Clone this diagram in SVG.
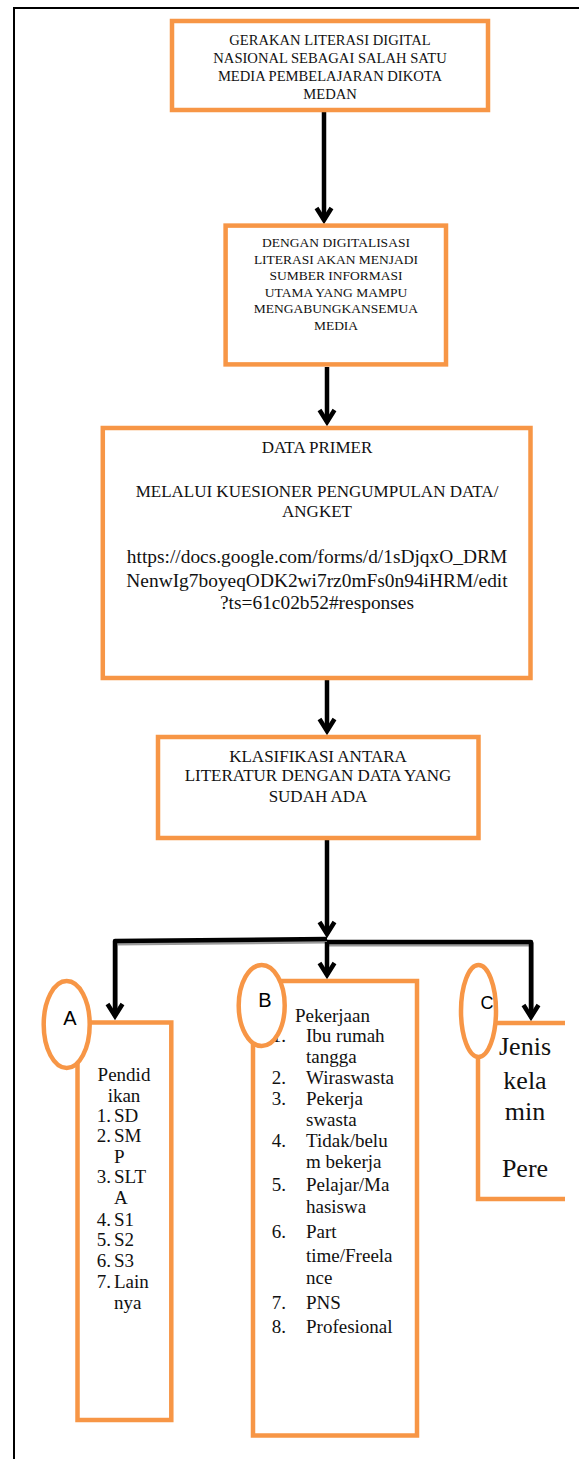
<svg xmlns="http://www.w3.org/2000/svg" width="579" height="1459" viewBox="0 0 579 1459">
<style>
.box{fill:#fff;stroke:#F79646;stroke-width:4.5}
.ell{fill:#fff;stroke:#F79646;stroke-width:4.5}
.t{font-family:"Liberation Serif","Times New Roman",serif;fill:#111}
.c{text-anchor:middle}
.lbl{font-family:"Liberation Sans",Arial,sans-serif;fill:#000;text-anchor:middle}
.ln{fill:none;stroke:#000;stroke-width:4.5;stroke-linejoin:round}
.sh{fill:none;stroke:#9a9a9a;stroke-width:4}
</style>
<defs>
<marker id="ah" markerUnits="userSpaceOnUse" markerWidth="30" markerHeight="30" refX="0" refY="0" orient="auto" overflow="visible">
<path d="M-12,-7.5 L0,0 L-12,7.5" fill="none" stroke="#000" stroke-width="4.5" stroke-linejoin="miter"/>
</marker>
</defs>
<rect x="14" y="8" width="620" height="1500" fill="#fff" stroke="#000" stroke-width="2"/>

<g id="connectors">
<g transform="translate(1,2.5)">
<path class="sh" d="M115,1008 V941 L327,939"/>
<path class="sh" d="M327,942 H531 V1008"/>
</g>
<path class="ln" d="M324,112 V220" marker-end="url(#ah)"/>
<path class="ln" d="M327,367 V422" marker-end="url(#ah)"/>
<path class="ln" d="M327,680 V731" marker-end="url(#ah)"/>
<path class="ln" d="M327,840 V934" marker-end="url(#ah)"/>
<path class="ln" d="M327,939 L115,941 V1016" marker-end="url(#ah)"/>
<path class="ln" d="M327,942 V975" marker-end="url(#ah)"/>
<path class="ln" d="M327,942 H531 V1017" marker-end="url(#ah)"/>
</g>

<g id="node1">
<rect class="box" x="172" y="21" width="316" height="89"/>
<g class="t c" font-size="14.6">
<text x="330" y="45">GERAKAN LITERASI DIGITAL</text>
<text x="330" y="63">NASIONAL SEBAGAI SALAH SATU</text>
<text x="330" y="81">MEDIA PEMBELAJARAN DIKOTA</text>
<text x="330" y="99">MEDAN</text>
</g>
</g>

<g id="node2">
<rect class="box" x="225.6" y="225.6" width="220.4" height="138.8"/>
<g class="t c" font-size="13.5">
<text x="336" y="247">DENGAN DIGITALISASI</text>
<text x="336" y="264">LITERASI AKAN MENJADI</text>
<text x="336" y="280">SUMBER INFORMASI</text>
<text x="336" y="297">UTAMA YANG MAMPU</text>
<text x="336" y="313">MENGABUNGKANSEMUA</text>
<text x="336" y="330">MEDIA</text>
</g>
</g>

<g id="node3">
<rect class="box" x="102.8" y="428" width="427.7" height="250"/>
<g class="t c" font-size="17">
<text x="317" y="453">DATA PRIMER</text>
<text x="317" y="497">MELALUI KUESIONER PENGUMPULAN DATA/</text>
<text x="317" y="517">ANGKET</text>
</g>
<g class="t c" font-size="19.4">
<text x="317" y="563">https://docs.google.com/forms/d/1sDjqxO_DRM</text>
<text x="317" y="587">NenwIg7boyeqODK2wi7rz0mFs0n94iHRM/edit</text>
<text x="317" y="609">?ts=61c02b52#responses</text>
</g>
</g>

<g id="node4">
<rect class="box" x="158" y="737" width="320.5" height="101"/>
<g class="t c" font-size="17">
<text x="318" y="762">KLASIFIKASI ANTARA</text>
<text x="318" y="781">LITERATUR DENGAN DATA YANG</text>
<text x="318" y="802">SUDAH ADA</text>
</g>
</g>

<g id="nodeA">
<rect class="box" x="77.5" y="1022.5" width="93.8" height="397.5"/>
<g class="t" font-size="19">
<text class="c" x="124" y="1081">Pendid</text>
<text class="c" x="124" y="1102">ikan</text>
<text x="96.7" y="1122">1.</text><text x="114" y="1122">SD</text>
<text x="96.7" y="1142">2.</text><text x="114" y="1142">SM</text>
<text x="114" y="1163">P</text>
<text x="96.7" y="1183">3.</text><text x="114" y="1183">SLT</text>
<text x="114" y="1204">A</text>
<text x="96.7" y="1226">4.</text><text x="114" y="1226">S1</text>
<text x="96.7" y="1246">5.</text><text x="114" y="1246">S2</text>
<text x="96.7" y="1267">6.</text><text x="114" y="1267">S3</text>
<text x="96.7" y="1288">7.</text><text x="114" y="1288">Lain</text>
<text x="114" y="1309">nya</text>
</g>
<ellipse class="ell" cx="66.7" cy="1024.5" rx="23" ry="43.5"/>
<text class="lbl" x="70" y="1025" font-size="20">A</text>
</g>

<g id="nodeB">
<rect class="box" x="253" y="981" width="164" height="454.5"/>
<g class="t" font-size="19">
<text x="295" y="1022">Pekerjaan</text>
<text x="271.7" y="1042">1.</text><text x="306" y="1042">Ibu rumah</text>
<text x="306" y="1063">tangga</text>
<text x="271.7" y="1084">2.</text><text x="306" y="1084">Wiraswasta</text>
<text x="271.7" y="1105">3.</text><text x="306" y="1105">Pekerja</text>
<text x="306" y="1126">swasta</text>
<text x="271.7" y="1147">4.</text><text x="306" y="1147">Tidak/belu</text>
<text x="306" y="1168">m bekerja</text>
<text x="271.7" y="1191">5.</text><text x="306" y="1191">Pelajar/Ma</text>
<text x="306" y="1213">hasiswa</text>
<text x="271.7" y="1238">6.</text><text x="306" y="1238">Part</text>
<text x="306" y="1262">time/Freela</text>
<text x="306" y="1284">nce</text>
<text x="271.7" y="1309">7.</text><text x="306" y="1309">PNS</text>
<text x="271.7" y="1333">8.</text><text x="306" y="1333">Profesional</text>
</g>
<ellipse class="ell" cx="261.7" cy="1005.5" rx="23" ry="40.5"/>
<text class="lbl" x="265" y="1007" font-size="20">B</text>
</g>

<g id="nodeC">
<path d="M565,1023 H478 V1199 H565" fill="#fff" stroke="#F79646" stroke-width="4.5"/>
<g class="t c" font-size="26">
<text x="525" y="1055">Jenis</text>
<text x="525" y="1089">kela</text>
<text x="525" y="1120">min</text>
<text x="525" y="1177">Pere</text>
</g>
<ellipse class="ell" cx="478.5" cy="1011" rx="17.5" ry="46"/>
<text class="lbl" x="487" y="1009" font-size="18">C</text>
</g>
</svg>
